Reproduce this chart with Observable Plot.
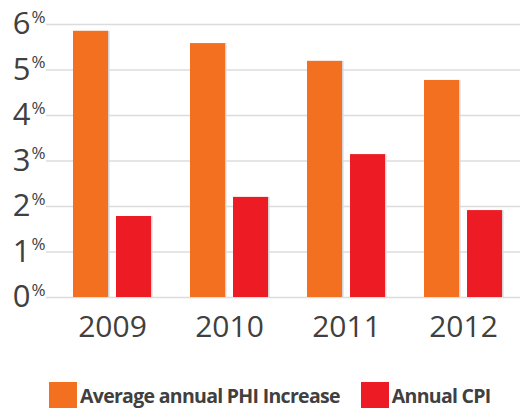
<!DOCTYPE html>
<html>
<head>
<meta charset="utf-8">
<script src="https://cdn.jsdelivr.net/npm/d3@7"></script>
<script src="https://cdn.jsdelivr.net/npm/@observablehq/plot@0.6"></script>
<style>
  html, body { margin: 0; padding: 0; background: #fff; }
  #chart svg { display: block; }
  .legend { display: flex; align-items: flex-start; height: 36px; margin-top: 10px; font-family: "Open Sans", sans-serif; font-weight: 700; color: #404040; }
  .item { display: flex; align-items: flex-start; }
  .sw { width: 28px; height: 28px; margin-right: 3px; }
  .lbl { font-size: 19.5px; line-height: 1; padding-top: 4px; letter-spacing: -0.7px; }
</style>
</head>
<body>
<div id="chart"></div>
<div class="legend" id="legend"></div>
<script>
const years = ["2009", "2010", "2011", "2012"];
const phiIncrease = [5.85, 5.58, 5.19, 4.77];
const annualCPI = [1.78, 2.20, 3.14, 1.91];
const yTicks = [0, 1, 2, 3, 4, 5, 6];
const seriesNames = ["Average annual PHI Increase", "Annual CPI"];
const seriesColors = ["#F37021", "#ED1C24"];

const rows = years.map((y, i) => ({year: y, phi: phiIncrease[i], cpi: annualCPI[i]}));
const textColor = "#404040";
const font = "'Open Sans', sans-serif";

const chart = Plot.plot({
  width: 520,
  height: 372,
  marginLeft: 46,
  marginRight: 0,
  marginTop: 24,
  marginBottom: 75,
  style: {fontFamily: font, color: textColor, background: "#fff"},
  x: {type: "band", domain: years, paddingInner: 0.335, paddingOuter: 0.188, align: 0.59, label: null},
  y: {domain: [0, 6], label: null, axis: null},
  marks: [
    Plot.ruleY(yTicks, {stroke: "#dcdcdc", strokeWidth: 1.5}),
    Plot.barY(rows, {x: "year", y: "phi", insetRight: 43, fill: "#d4d4d4", dx: 1.5}),
    Plot.barY(rows, {x: "year", y: "cpi", insetLeft: 43, fill: "#d4d4d4", dx: 1.5}),
    Plot.barY(rows, {x: "year", y: "phi", insetRight: 43, fill: seriesColors[0]}),
    Plot.barY(rows, {x: "year", y: "cpi", insetLeft: 43, fill: seriesColors[1]}),
    Plot.text(yTicks, {y: d => d, text: d => String(d), frameAnchor: "left", textAnchor: "end", dx: -16, fontSize: 31, fill: textColor, lineAnchor: "middle"}),
    Plot.text(yTicks, {y: d => d, text: () => "%", frameAnchor: "left", textAnchor: "start", dx: -15, dy: -7, fontSize: 17, fill: textColor, lineAnchor: "middle"}),
    Plot.axisX({tickSize: 0, tickPadding: 18, fontSize: 30, fill: textColor, label: null})
  ]
});
document.getElementById("chart").appendChild(chart);

const legend = document.getElementById("legend");
const offsets = [49, 21];
seriesNames.forEach((name, i) => {
  const item = document.createElement("div");
  item.className = "item";
  item.style.marginLeft = offsets[i] + "px";
  const sw = document.createElement("div");
  sw.className = "sw";
  sw.style.background = seriesColors[i];
  const lbl = document.createElement("span");
  lbl.className = "lbl";
  lbl.textContent = name;
  item.appendChild(sw);
  item.appendChild(lbl);
  legend.appendChild(item);
});
</script>
</body>
</html>
